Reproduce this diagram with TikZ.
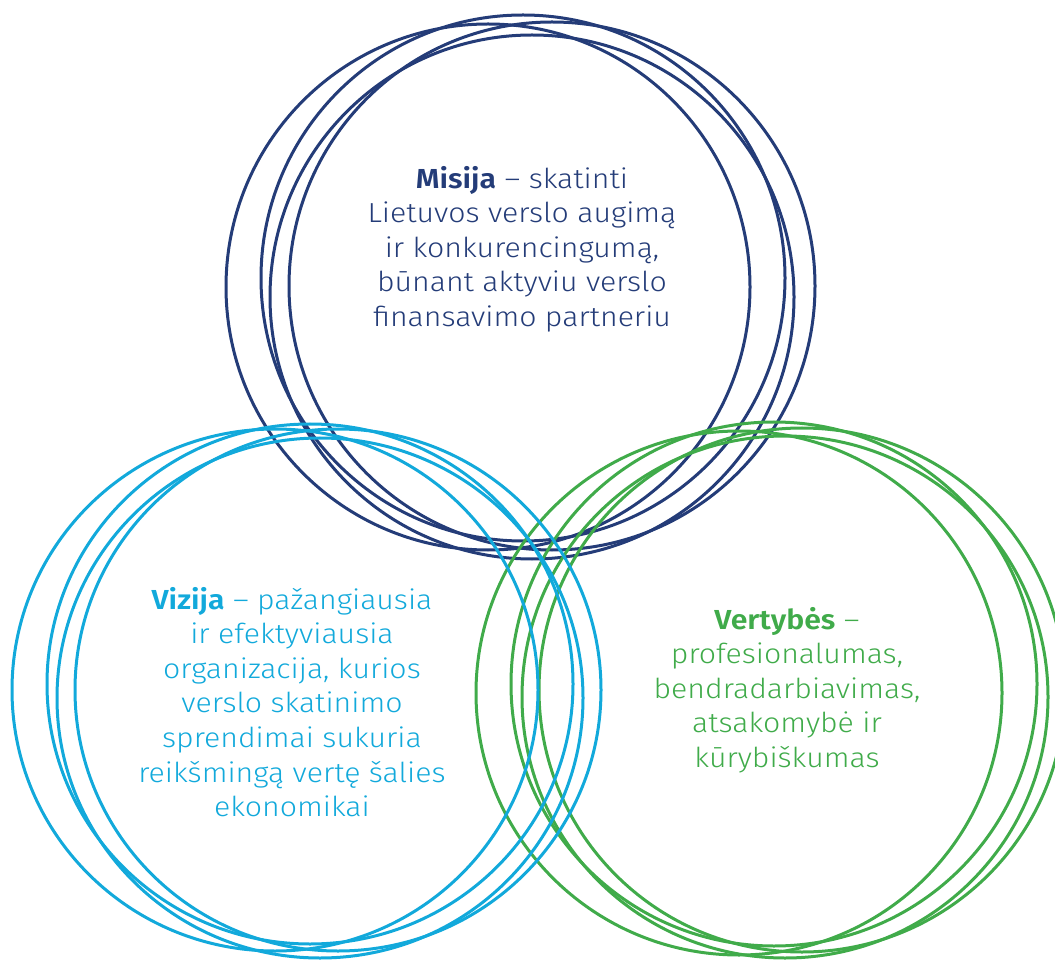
\documentclass[tikz,border=0pt]{standalone}
\usepackage{fontspec}
\setmainfont{Fira Sans}[UprightFont=* Light, BoldFont=* SemiBold, FakeStretch=1.1]
\definecolor{navy}{HTML}{243C78}
\definecolor{sky}{HTML}{12A9DB}
\definecolor{leaf}{HTML}{40AB4A}
\begin{document}
\begin{tikzpicture}[x=1pt,y=-1pt,
  ring/.style={line width=3pt},
  lbl/.style={align=center,inner sep=0pt,font=\fontsize{27.5}{34.6}\selectfont}]
\useasboundingbox (0,0) rectangle (1055,965);
\clip (0,0) rectangle (1055,965);
% navy rings
\begin{scope}[ring,draw=navy]
\draw (488,287) ellipse [x radius=262pt,y radius=263pt];
\draw (523,278) ellipse [x radius=262pt,y radius=263pt];
\draw (532,297) ellipse [x radius=262pt,y radius=262pt];
\draw (552,286) ellipse [x radius=263pt,y radius=264pt];
\end{scope}
% green rings
\begin{scope}[ring,draw=leaf]
\draw (739,693) ellipse [x radius=263pt,y radius=262pt];
\draw (774,684) ellipse [x radius=263pt,y radius=262pt];
\draw (785,697) ellipse [x radius=263pt,y radius=261pt];
\draw (802,690) ellipse [x radius=263pt,y radius=262pt];
\end{scope}
% blue rings
\begin{scope}[ring,draw=sky]
\draw (275,690) ellipse [x radius=263pt,y radius=261pt];
\draw (310,684) ellipse [x radius=263pt,y radius=260pt];
\draw (320,698) ellipse [x radius=263pt,y radius=260pt];
\draw (338,690) ellipse [x radius=263pt,y radius=261pt];
\end{scope}
\node[lbl,text=navy] (misija) at (522,249) {\textbf{Misija} – skatinti\\Lietuvos verslo augimą\\ir konkurencingumą,\\būnant aktyviu verslo\\finansavimo partneriu};
\node[lbl,text=sky] (vizija) at (292,702) {\textbf{Vizija} – pažangiausia\\ir efektyviausia\\organizacija, kurios\\verslo skatinimo\\sprendimai sukuria\\reikšmingą vertę šalies\\ekonomikai};
\node[lbl,text=leaf] (vertybes) at (787,690) {\textbf{Vertybės} –\\profesionalumas,\\bendradarbiavimas,\\atsakomybė ir\\kūrybiškumas};
\end{tikzpicture}
\end{document}
